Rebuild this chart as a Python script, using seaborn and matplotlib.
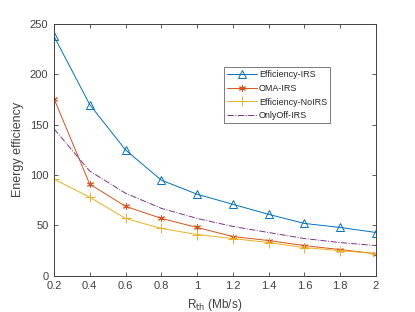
import numpy as np
import pandas as pd
import seaborn as sns
import matplotlib
matplotlib.use("Agg")
import matplotlib.pyplot as plt

rth = [0.2, 0.4, 0.6, 0.8, 1.0, 1.2, 1.4, 1.6, 1.8, 2.0]
eff_irs = [238, 170, 125, 95, 81, 71, 61, 52, 48, 43]
oma_irs = [176, 91, 69, 57, 48, 39, 35, 30, 26, 22]
eff_noirs = [96, 78, 57, 47, 41, 37, 33, 28, 25, 22]
onlyoff_irs = [146, 104, 82, 67, 57, 49, 43, 37, 33, 30]

sns.set_style("ticks")
plt.rcParams['font.family'] = ['Liberation Sans', 'DejaVu Sans']

fig = plt.figure(figsize=(4.15, 3.12), dpi=100)
ax = fig.add_axes([0.130, 0.116, 0.776, 0.807])

ec = '#404040'
series = [
    ("Efficiency-IRS", eff_irs, '#0072BD', '^', '-', 6, 'none'),
    ("OMA-IRS", oma_irs, '#D95319', (6, 2, 0), '-', 5, None),
    ("Efficiency-NoIRS", eff_noirs, '#EDB120', '+', '-', 7, None),
    ("OnlyOff-IRS", onlyoff_irs, '#7E2F8E', None, '-.', 6, None),
]
for name, vals, col, mk, ls, ms, mfc in series:
    df = pd.DataFrame({'x': rth, 'y': vals})
    kw = dict(color=col, linestyle=ls, linewidth=0.7, label=name)
    if mk is not None:
        kw.update(marker=mk, markersize=ms, markeredgewidth=0.7)
        if mfc == 'none':
            kw.update(markerfacecolor='none', markeredgecolor=col)
        else:
            kw.update(markeredgecolor=col)
    sns.lineplot(data=df, x='x', y='y', ax=ax, **kw)

ax.set_xlim(0.2, 2)
ax.set_ylim(0, 250)
ax.set_xticks(rth)
ax.set_xticklabels(['0.2', '0.4', '0.6', '0.8', '1', '1.2', '1.4', '1.6', '1.8', '2'])
ax.set_yticks([0, 50, 100, 150, 200, 250])
ax.tick_params(direction='in', top=True, right=True, labelsize=8, colors=ec,
               length=3, width=0.6, pad=4)
for s in ax.spines.values():
    s.set_visible(True)
    s.set_color(ec)
    s.set_linewidth(0.7)
ax.set_xlabel("R$_{\\mathrm{th}}$ (Mb/s)", fontsize=8.5, color=ec)
ax.set_ylabel("Energy efficiency", fontsize=9, color=ec)

leg = ax.legend(loc='upper right', bbox_to_anchor=(0.858, 0.828), fontsize=6.5,
                frameon=True, fancybox=False, borderpad=0.35, labelspacing=0.5,
                handlelength=3.3, handletextpad=0.2, borderaxespad=0)
leg.get_frame().set_edgecolor(ec)
leg.get_frame().set_linewidth(0.6)

fig.savefig("out.png", dpi=100)
